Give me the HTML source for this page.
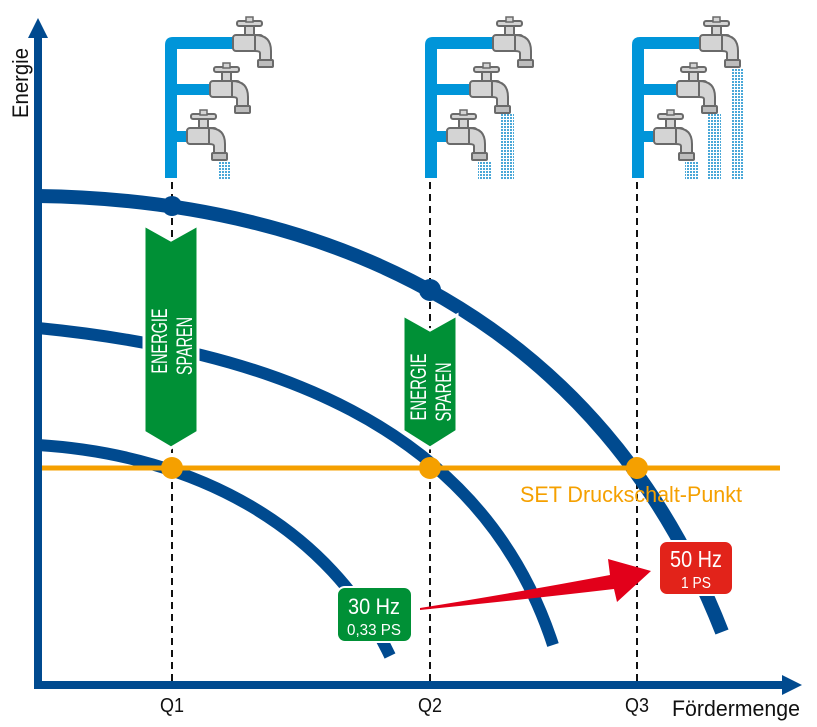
<!DOCTYPE html>
<html><head><meta charset="utf-8"><style>
html,body{margin:0;padding:0;background:#fff}
svg{display:block}
text{font-family:"Liberation Sans",sans-serif}
</style></head><body>
<svg width="817" height="727" viewBox="0 0 817 727" xmlns="http://www.w3.org/2000/svg">
<defs>
<pattern id="wp" width="3" height="3" patternUnits="userSpaceOnUse"><rect width="2" height="2" fill="#4aa8d8"/></pattern>
<g id="tap">
<rect x="0" y="-8" width="30" height="16" rx="3" fill="#d4d4d4" stroke="#6a6a6a" stroke-width="2"/>
<path d="M22,-8 Q38,-8 38,8 L38,18 L27,18 L27,10 Q27,8 22,8 Z" fill="#d4d4d4" stroke="#6a6a6a" stroke-width="2"/>
<rect x="25" y="17" width="15" height="7" rx="1" fill="#bdbdbd" stroke="#6a6a6a" stroke-width="2"/>
<rect x="12" y="-17" width="9" height="9" fill="#d4d4d4" stroke="#6a6a6a" stroke-width="2"/>
<rect x="4" y="-22" width="25" height="5" rx="2" fill="#d4d4d4" stroke="#6a6a6a" stroke-width="2"/>
<rect x="13" y="-26" width="7" height="5" fill="#d4d4d4" stroke="#6a6a6a" stroke-width="1.5"/>
</g>
<path id="F" d="M0,178 L0,45 Q0,37 8,37 L68,37 L68,49 L12,49 L12,84 L45,84 L45,95 L12,95 L12,131 L22,131 L22,142 L12,142 L12,178 Z" fill="#0095d9"/>
</defs>

<use href="#F" x="165"/>
<use href="#tap" x="233" y="43"/>
<use href="#tap" x="210" y="89"/>
<use href="#tap" x="187" y="136"/>
<rect x="218" y="161" width="13" height="19" fill="url(#wp)"/>
<use href="#F" x="425"/>
<use href="#tap" x="493" y="43"/>
<use href="#tap" x="470" y="89"/>
<use href="#tap" x="447" y="136"/>
<rect x="478" y="161" width="13" height="19" fill="url(#wp)"/>
<rect x="501" y="114" width="13" height="66" fill="url(#wp)"/>
<use href="#F" x="632"/>
<use href="#tap" x="700" y="43"/>
<use href="#tap" x="677" y="89"/>
<use href="#tap" x="654" y="136"/>
<rect x="685" y="161" width="13" height="19" fill="url(#wp)"/>
<rect x="708" y="114" width="13" height="66" fill="url(#wp)"/>
<rect x="731" y="68" width="13" height="112" fill="url(#wp)"/>

<g stroke="#111" stroke-width="2" stroke-dasharray="7,5">
<line x1="172" y1="182" x2="172" y2="682"/>
<line x1="430" y1="182" x2="430" y2="682"/>
<line x1="637" y1="182" x2="637" y2="682"/>
</g>

<g fill="none" stroke="#004a8f">
<path d="M38,196 C330,200 600,320 722,632" stroke-width="14"/>
<path d="M38,328 C260,350 480,420 553,645" stroke-width="12"/>
<path d="M38,445 C200,455 330,530 390,656" stroke-width="12"/>
</g>
<circle cx="172" cy="206" r="10" fill="#004a8f"/>
<circle cx="430" cy="290" r="11" fill="#004a8f"/>

<line x1="38" y1="468" x2="780" y2="468" stroke="#f5a000" stroke-width="5"/>
<circle cx="172" cy="468" r="11" fill="#f5a000"/>
<circle cx="430" cy="468" r="11" fill="#f5a000"/>
<circle cx="637" cy="468" r="11" fill="#f5a000"/>
<text x="520" y="502" font-size="22" fill="#f5a000" textLength="222" lengthAdjust="spacingAndGlyphs">SET Druckschalt-Punkt</text>

<path d="M144,225 L171,240 L198,225 L198,432 L171,448 L144,432 Z" fill="#009036" stroke="#fff" stroke-width="3"/>
<text transform="translate(167,341) rotate(-90)" text-anchor="middle" font-size="22" fill="#fff" textLength="65" lengthAdjust="spacingAndGlyphs">ENERGIE</text>
<text transform="translate(192,346) rotate(-90)" text-anchor="middle" font-size="22" fill="#fff" textLength="58" lengthAdjust="spacingAndGlyphs">SPAREN</text>
<path d="M403,315 L430,330 L457,315 L457,431 L430,448 L403,431 Z" fill="#009036" stroke="#fff" stroke-width="3"/>
<text transform="translate(426,387) rotate(-90)" text-anchor="middle" font-size="22" fill="#fff" textLength="67" lengthAdjust="spacingAndGlyphs">ENERGIE</text>
<text transform="translate(451,392) rotate(-90)" text-anchor="middle" font-size="22" fill="#fff" textLength="59" lengthAdjust="spacingAndGlyphs">SPAREN</text>

<path d="M420,608 Q520,592 610,575 L608,559 L651,571 L617,602 L614,589 Q520,600 420,610 Z" fill="#e2001a"/>

<rect x="337" y="587" width="75" height="55" rx="8" fill="#009036" stroke="#fff" stroke-width="2"/>
<text x="374" y="614" text-anchor="middle" font-size="22" fill="#fff" textLength="52" lengthAdjust="spacingAndGlyphs">30 Hz</text>
<text x="374" y="635" text-anchor="middle" font-size="16" fill="#fff" textLength="54" lengthAdjust="spacingAndGlyphs">0,33 PS</text>
<rect x="659" y="541" width="74" height="54" rx="8" fill="#e2231a" stroke="#fff" stroke-width="2"/>
<text x="696" y="567" text-anchor="middle" font-size="23" fill="#fff" textLength="52" lengthAdjust="spacingAndGlyphs">50 Hz</text>
<text x="696" y="588" text-anchor="middle" font-size="16" fill="#fff" textLength="30" lengthAdjust="spacingAndGlyphs">1 PS</text>

<line x1="38" y1="689" x2="38" y2="34" stroke="#004a8f" stroke-width="8"/>
<polygon points="38,18 28,38 48,38" fill="#004a8f"/>
<line x1="34" y1="685" x2="785" y2="685" stroke="#004a8f" stroke-width="8"/>
<polygon points="802,685 782,675 782,695" fill="#004a8f"/>
<text transform="translate(28,83) rotate(-90)" text-anchor="middle" font-size="22" fill="#111" textLength="70" lengthAdjust="spacingAndGlyphs">Energie</text>
<text x="172" y="712" text-anchor="middle" font-size="20" fill="#111" textLength="24" lengthAdjust="spacingAndGlyphs">Q1</text>
<text x="430" y="712" text-anchor="middle" font-size="20" fill="#111" textLength="24" lengthAdjust="spacingAndGlyphs">Q2</text>
<text x="637" y="712" text-anchor="middle" font-size="20" fill="#111" textLength="24" lengthAdjust="spacingAndGlyphs">Q3</text>
<text x="736" y="716" text-anchor="middle" font-size="22" fill="#111" textLength="128" lengthAdjust="spacingAndGlyphs">Fördermenge</text>
</svg>
</body></html>
